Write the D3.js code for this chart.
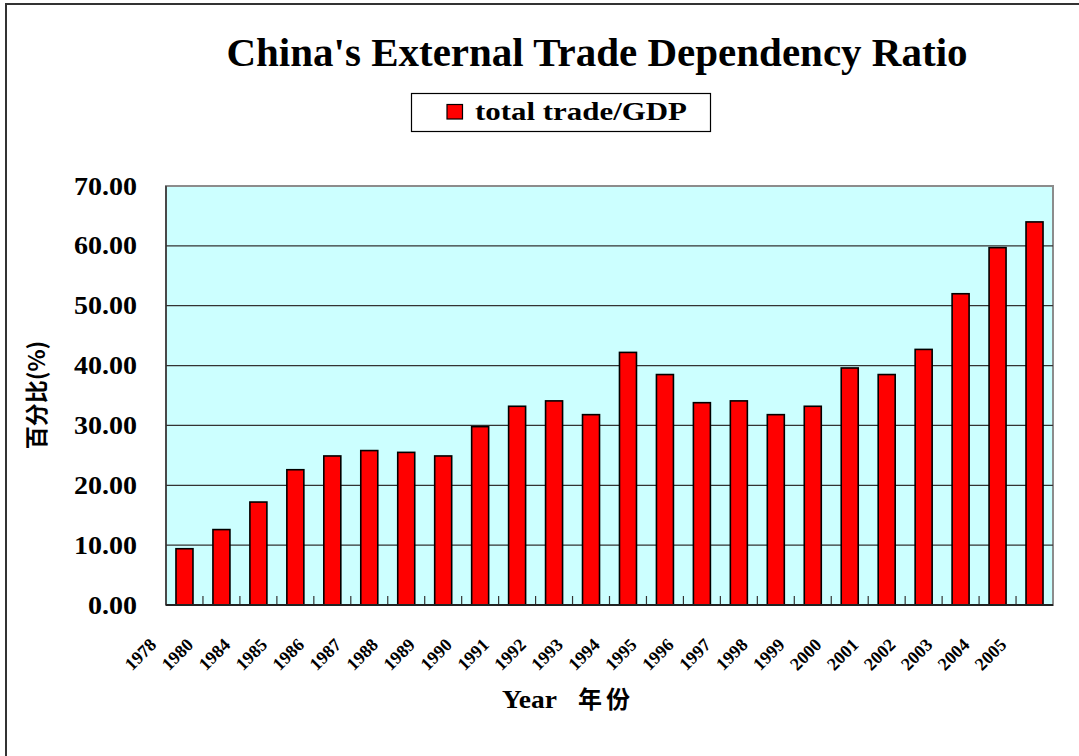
<!DOCTYPE html>
<html>
<head>
<meta charset="utf-8">
<script src="https://cdn.jsdelivr.net/npm/d3@7"></script>
<style>
  html, body { margin: 0; padding: 0; background: #fff; }
  svg { display: block; }
</style>
</head>
<body>
<svg id="chart" width="1079" height="756"></svg>
<script>
const categories = ["1978","1980","1984","1985","1986","1987","1988","1989","1990","1991","1992","1993","1994","1995","1996","1997","1998","1999","2000","2001","2002","2003","2004","2005"];
const tradeRatio = [9.4, 12.6, 17.2, 22.6, 24.9, 25.8, 25.5, 24.9, 29.8, 33.2, 34.1, 31.8, 42.2, 38.5, 33.8, 34.1, 31.8, 33.2, 39.6, 38.5, 42.7, 52.0, 59.7, 64.0];
const yTicks = [0, 10, 20, 30, 40, 50, 60, 70];
const titleText = "China's External Trade Dependency Ratio";
const seriesName = "total trade/GDP";
const yTitle = "百分比(%)";
const xTitleLatin = "Year";
const xTitleCJK = "年份";

const serif = "'Liberation Serif', 'Times New Roman', serif";
const cjk = "'Noto Sans CJK SC', 'Noto Sans CJK TC', sans-serif";

const svg = d3.select("#chart");
const plot = { left: 166, top: 186, right: 1053, bottom: 605 };

// outer chart border
svg.append("rect")
  .attr("x", 6).attr("y", 4).attr("width", 1100).attr("height", 800)
  .attr("fill", "#fff").attr("stroke", "#333").attr("stroke-width", 2);

const x = d3.scaleBand()
  .domain(categories)
  .range([plot.left, plot.right])
  .paddingInner(0.54)
  .paddingOuter(0.27);

const y = d3.scaleLinear().domain([0, 70]).range([plot.bottom, plot.top]);

// plot background
svg.append("rect")
  .attr("x", plot.left).attr("y", plot.top)
  .attr("width", plot.right - plot.left).attr("height", plot.bottom - plot.top)
  .attr("fill", "#CCFFFF").attr("stroke", "#8c8c8c").attr("stroke-width", 2);

// gridlines
svg.append("g").selectAll("line")
  .data(yTicks.filter(d => d > 0 && d < 70))
  .join("line")
  .attr("x1", plot.left).attr("x2", plot.right)
  .attr("y1", d => y(d)).attr("y2", d => y(d))
  .attr("stroke", "#333").attr("stroke-width", 1.2);

// left axis line
svg.append("line")
  .attr("x1", plot.left).attr("x2", plot.left)
  .attr("y1", plot.top).attr("y2", plot.bottom)
  .attr("stroke", "#333").attr("stroke-width", 1.5);

// y tick labels
svg.append("g").selectAll("text")
  .data(yTicks)
  .join("text")
  .attr("transform", d => `translate(137,${y(d)}) scale(1.12,1)`)
  .attr("dy", "0.34em")
  .attr("text-anchor", "end")
  .attr("font-family", serif).attr("font-weight", "bold").attr("font-size", 25)
  .attr("fill", "#000")
  .text(d => d3.format(".2f")(d));

// bars
svg.append("g").selectAll("rect")
  .data(categories.map((c, i) => ({ c, v: tradeRatio[i] })))
  .join("rect")
  .attr("x", d => x(d.c))
  .attr("width", x.bandwidth())
  .attr("y", d => y(d.v))
  .attr("height", d => y(0) - y(d.v))
  .attr("fill", "#FF0000")
  .attr("stroke", "#000").attr("stroke-width", 1.6);

// category tick marks (inside, pointing up, between categories)
const gap = (x.step() - x.bandwidth()) / 2;
svg.append("g").selectAll("line")
  .data(categories.slice(1))
  .join("line")
  .attr("x1", d => x(d) - gap).attr("x2", d => x(d) - gap)
  .attr("y1", plot.bottom).attr("y2", plot.bottom - 9)
  .attr("stroke", "#333").attr("stroke-width", 1.2);

// bottom axis line
svg.append("line")
  .attr("x1", plot.left).attr("x2", plot.right)
  .attr("y1", plot.bottom).attr("y2", plot.bottom)
  .attr("stroke", "#222").attr("stroke-width", 2);

// x tick labels (rotated)
svg.append("g").selectAll("text")
  .data(categories)
  .join("text")
  .attr("transform", d => `translate(${x(d) + x.bandwidth() / 2 - 27},646) rotate(-45)`)
  .attr("text-anchor", "end")
  .attr("font-family", serif).attr("font-weight", "bold").attr("font-size", 18)
  .attr("fill", "#000")
  .text(d => d);

// title
svg.append("text")
  .attr("x", 597).attr("y", 66)
  .attr("text-anchor", "middle")
  .attr("font-family", serif).attr("font-weight", "bold").attr("font-size", 41)
  .attr("fill", "#000")
  .text(titleText);

// legend
const lg = svg.append("g");
lg.append("rect")
  .attr("x", 411.5).attr("y", 93.5).attr("width", 299).attr("height", 38)
  .attr("fill", "#fff").attr("stroke", "#000").attr("stroke-width", 1.2);
lg.append("rect")
  .attr("x", 447).attr("y", 104.5).attr("width", 15.5).attr("height", 14.5)
  .attr("fill", "#FF0000").attr("stroke", "#000").attr("stroke-width", 1.2);
lg.append("text")
  .attr("x", 475).attr("y", 120)
  .attr("font-family", serif).attr("font-weight", "bold").attr("font-size", 26)
  .attr("textLength", 212).attr("lengthAdjust", "spacingAndGlyphs")
  .attr("fill", "#000")
  .text(seriesName);

// y axis title
svg.append("text")
  .attr("transform", "translate(45,395) rotate(-90)")
  .attr("text-anchor", "middle")
  .attr("font-family", cjk).attr("font-weight", "bold").attr("font-size", 23)
  .attr("fill", "#000")
  .text(yTitle);

// x axis title
const xt = svg.append("text")
  .attr("x", 502).attr("y", 708)
  .attr("fill", "#000").attr("font-weight", "bold");
xt.append("tspan")
  .attr("font-family", serif).attr("font-size", 26)
  .attr("textLength", 55).attr("lengthAdjust", "spacingAndGlyphs")
  .text(xTitleLatin);
xt.append("tspan")
  .attr("x", 578)
  .attr("font-family", cjk).attr("font-size", 24).attr("letter-spacing", 4)
  .text(xTitleCJK);
</script>
</body>
</html>
